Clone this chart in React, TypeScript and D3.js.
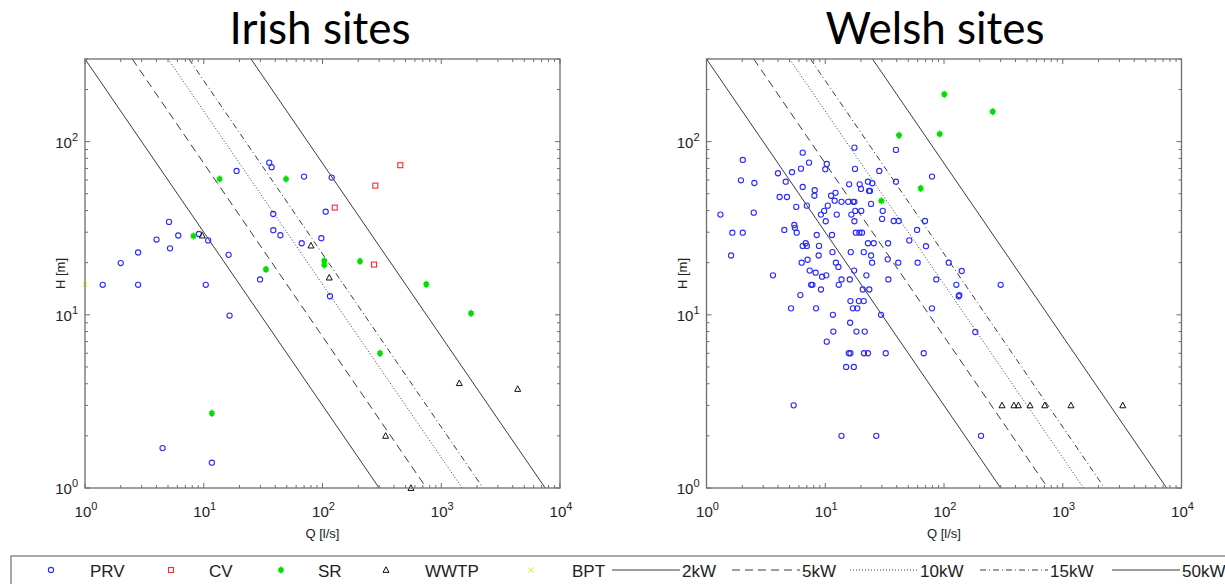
import React from "react";
import { scaleLog, line } from "d3";

// [Q l/s, H m]
const irishPRV: [number, number][] = [
  [35.6, 75.6], [37.3, 71.2], [18.9, 67.7], [69.9, 62.8], [119.5, 62.0], [38.5, 38.2],
  [106.4, 39.4], [5.1, 34.4], [6.1, 28.7], [4.0, 27.2], [5.2, 24.2], [2.8, 22.9],
  [2.0, 19.9], [9.1, 29.3], [10.9, 26.9], [16.2, 22.2], [38.5, 30.8], [44.2, 28.8],
  [66.8, 25.9], [97.8, 27.7], [29.8, 16.0], [1.41, 14.9], [2.8, 14.9], [10.4, 14.9],
  [16.5, 9.9], [4.5, 1.7], [11.7, 1.4], [115.6, 12.8],
];
const irishCV: [number, number][] = [[126.7, 41.6], [452, 73.1], [278.5, 55.7], [271.6, 19.5]];
const irishSR: [number, number][] = [
  [13.6, 60.9], [49.3, 60.9], [8.2, 28.5], [103.5, 20.5], [103.5, 19.4], [33.4, 18.3],
  [207, 20.4], [748, 15.0], [1782, 10.2], [305, 6.0], [11.7, 2.7],
];
const irishWWTP: [number, number][] = [
  [9.7, 28.7], [80, 25.1], [114, 16.4], [1419, 4.03], [4404, 3.73], [340, 2.0], [556, 1.0],
];
const irishBPT: [number, number][] = [[1.0, 15.0]];

const welshPRV: [number, number][] = [
  [39.4, 89.6], [17.6, 92.3], [6.46, 86.4], [2.02, 78.4], [7.3, 75.6], [10.3, 74.3], [10.0, 69.3],
  [17.8, 69.6], [6.25, 69.8], [5.25, 66.6], [4.0, 65.7], [28.5, 67.7], [1.95, 59.8], [2.53, 57.7],
  [4.65, 58.7], [39.4, 58.7], [79.2, 62.8], [6.46, 54.7], [15.9, 56.7], [19.5, 56.7], [22.9, 58.7],
  [24.9, 57.5], [20.0, 53.3], [23.4, 51.9], [23.8, 51.9], [8.15, 52.4], [8.1, 48.7], [4.13, 47.9],
  [4.76, 47.9], [11.2, 48.7], [12.2, 50.6], [12.0, 45.6], [13.7, 44.9], [15.6, 44.9], [17.2, 44.9],
  [17.6, 44.9], [24.3, 43.7], [5.7, 42.0], [7.0, 42.7], [10.5, 42.7], [9.8, 39.8], [9.2, 37.9],
  [12.5, 37.9], [17.9, 39.8], [16.6, 37.9], [20.1, 39.8], [30.5, 39.8], [30.1, 35.8], [37.7, 34.8],
  [41.6, 34.8], [69.2, 34.8], [10.1, 34.7], [17.6, 34.7], [1.31, 37.9], [2.5, 38.9], [1.65, 29.8],
  [2.02, 29.8], [4.52, 30.9], [5.49, 33.0], [5.55, 31.8], [5.75, 29.8], [8.47, 28.9], [11.4, 28.9],
  [18.1, 29.8], [19.4, 29.8], [20.4, 29.8], [59.3, 30.9], [51.0, 26.9], [70.5, 24.9], [1.61, 22.0],
  [6.46, 25.0], [6.85, 25.9], [7.0, 25.0], [8.86, 25.0], [11.5, 23.0], [16.4, 23.0], [21.1, 23.0],
  [22.9, 25.9], [24.3, 22.0], [25.6, 25.9], [33.8, 25.9], [6.33, 20.0], [7.1, 20.8], [8.8, 22.0],
  [12.3, 20.0], [12.9, 18.9], [24.8, 20.0], [33.6, 20.9], [41.2, 20.0], [60.0, 20.0], [109.6, 20.0],
  [3.63, 16.9], [7.4, 18.0], [8.3, 17.5], [9.4, 16.6], [10.2, 16.9], [17.5, 18.0], [22.2, 16.9],
  [7.6, 14.9], [7.8, 14.9], [13.7, 16.0], [13.0, 14.9], [16.1, 16.0], [20.7, 14.0], [23.5, 14.0],
  [34.0, 16.0], [86.1, 16.0], [127, 14.9], [133, 12.8], [6.17, 13.0], [9.2, 14.0], [5.15, 10.9],
  [8.36, 10.9], [11.6, 10.0], [16.3, 12.0], [19.2, 12.0], [21.1, 12.0], [17.1, 10.9], [18.6, 10.9],
  [29.5, 10.0], [79.2, 10.9], [11.7, 8.0], [16.2, 9.0], [18.3, 8.0], [21.5, 8.0], [10.3, 7.0],
  [15.8, 6.0], [16.3, 6.0], [21.2, 6.0], [22.9, 6.0], [32.3, 6.0], [67.5, 6.0], [15.0, 5.0],
  [17.4, 5.0], [5.42, 3.0], [13.7, 2.0], [26.9, 2.0], [141, 17.9], [134.6, 13.0], [300, 14.9],
  [183.5, 7.96], [205, 2.0],
];
const welshCV: [number, number][] = [];
const welshSR: [number, number][] = [
  [100.6, 188], [41.8, 109], [92, 110.8], [257, 149], [63.6, 53.8], [29.7, 45.5],
];
const welshWWTP: [number, number][] = [
  [308, 3], [388, 3], [423, 3], [530, 3], [705, 3], [1173, 3], [3200, 3],
];
const welshBPT: [number, number][] = [];

// iso-power lines: Q*H = qhPerKw * kW
const powerKw = [2, 5, 10, 15, 50];
const powerLabels = ["2kW", "5kW", "10kW", "15kW", "50kW"];
const qhPerKw = 150;

const markerLabels = ["PRV", "CV", "SR", "WWTP", "BPT"];

const W = 1225;
const H = 584;
const top = 59;
const bottom = 488;
const plotW = 475;
const lineColor = "#3a3a3a";
const dashes = ["none", "8,5", "1,2", "6,3,1,3", "none"];

const Marker = ({ kind, x, y }: { kind: string; x: number; y: number }) => {
  if (kind === "PRV")
    return <circle cx={x} cy={y} r={2.6} fill="none" stroke="#2b2bff" strokeWidth={1.1} />;
  if (kind === "CV")
    return <rect x={x - 2.5} y={y - 2.5} width={5} height={5} fill="none" stroke="#ff2a2a" strokeWidth={1.1} />;
  if (kind === "SR")
    return (
      <path
        d={`M${x - 3},${y}H${x + 3}M${x},${y - 3.5}V${y + 3.5}M${x - 2.2},${y - 2.2}L${x + 2.2},${y + 2.2}M${x - 2.2},${y + 2.2}L${x + 2.2},${y - 2.2}`}
        stroke="#00e000"
        strokeWidth={1.6}
      />
    );
  if (kind === "WWTP")
    return (
      <path d={`M${x},${y - 3.2}L${x + 3},${y + 2.4}L${x - 3},${y + 2.4}Z`} fill="none" stroke="#111" strokeWidth={1} />
    );
  return (
    <path d={`M${x - 2.5},${y - 2.5}L${x + 2.5},${y + 2.5}M${x - 2.5},${y + 2.5}L${x + 2.5},${y - 2.5}`} stroke="#f0f000" strokeWidth={1} />
  );
};

type Panel = {
  id: string;
  title: string;
  titleX: number;
  x0: number;
  series: [number, number][][];
};

const panels: Panel[] = [
  { id: "ie", title: "Irish sites", titleX: 320, x0: 85, series: [irishPRV, irishCV, irishSR, irishWWTP, irishBPT] },
  { id: "wa", title: "Welsh sites", titleX: 935, x0: 706.5, series: [welshPRV, welshCV, welshSR, welshWWTP, welshBPT] },
];

const PlotPanel = ({ p }: { p: Panel }) => {
  const x = scaleLog().domain([1, 1e4]).range([p.x0, p.x0 + plotW]);
  const y = scaleLog().domain([1, 300]).range([bottom, top]);
  const xr = p.x0 + plotW;
  const xTicks: number[] = [];
  for (let e = 0; e < 4; e++) for (let m = 1; m <= 9; m++) xTicks.push(m * 10 ** e);
  xTicks.push(1e4);
  const yTicks: number[] = [];
  for (let e = 0; e < 3; e++) for (let m = 1; m <= 9; m++) if (m * 10 ** e <= 300) yTicks.push(m * 10 ** e);
  const isMajor = (v: number) => Math.abs(Math.log10(v) - Math.round(Math.log10(v))) < 1e-9;
  const ln = line<[number, number]>()
    .x((d) => x(d[0]))
    .y((d) => y(d[1]));
  const axisC = "#6e6e6e";
  return (
    <g>
      <defs>
        <clipPath id={`clip-${p.id}`}>
          <rect x={p.x0} y={top} width={plotW} height={bottom - top} />
        </clipPath>
      </defs>
      <text x={p.titleX} y={44} textAnchor="middle" fontFamily="Lato, 'Open Sans', sans-serif" fontSize={44} fill="#000">
        {p.title}
      </text>
      <g clipPath={`url(#clip-${p.id})`}>
        {powerKw.map((kw, i) => {
          const qh = kw * qhPerKw;
          return (
            <path
              key={kw}
              d={ln([[qh / 300, 300], [qh / 1, 1]]) || ""}
              fill="none"
              stroke={lineColor}
              strokeWidth={1}
              strokeDasharray={dashes[i]}
            />
          );
        })}
      </g>
      {p.series.map((s, i) =>
        s.map((d, j) => <Marker key={`${i}-${j}`} kind={markerLabels[i]} x={x(d[0])} y={y(d[1])} />)
      )}
      <rect x={p.x0} y={top} width={plotW} height={bottom - top} fill="none" stroke={axisC} strokeWidth={1.3} />
      {xTicks.map((t) => {
        const len = isMajor(t) ? 5 : 3;
        const px = x(t);
        return (
          <g key={`xt${t}`} stroke={axisC} strokeWidth={1}>
            <line x1={px} x2={px} y1={bottom} y2={bottom - len} />
            <line x1={px} x2={px} y1={top} y2={top + len} />
          </g>
        );
      })}
      {yTicks.map((t) => {
        const len = isMajor(t) ? 5 : 3;
        const py = y(t);
        return (
          <g key={`yt${t}`} stroke={axisC} strokeWidth={1}>
            <line x1={p.x0} x2={p.x0 + len} y1={py} y2={py} />
            <line x1={xr} x2={xr - len} y1={py} y2={py} />
          </g>
        );
      })}
      {[0, 1, 2, 3, 4].map((e) => (
        <text key={`xl${e}`} x={x(10 ** e) + 1} y={517} textAnchor="middle" fontFamily="'Liberation Sans', Arial, sans-serif" fontSize={15} fill="#222">
          <tspan>10</tspan>
          <tspan dy={-7} fontSize={11}>{e}</tspan>
        </text>
      ))}
      {[0, 1, 2].map((e) => (
        <text key={`yl${e}`} x={p.x0 - 7} y={y(10 ** e) + 6} textAnchor="end" fontFamily="'Liberation Sans', Arial, sans-serif" fontSize={15} fill="#222">
          <tspan>10</tspan>
          <tspan dy={-7} fontSize={11}>{e}</tspan>
        </text>
      ))}
      <text x={p.x0 + plotW / 2} y={538} textAnchor="middle" fontFamily="'Liberation Sans', Arial, sans-serif" fontSize={13} fill="#222">
        Q [l/s]
      </text>
      <text
        transform={`translate(${p.x0 - 20},${(top + bottom) / 2}) rotate(-90)`}
        textAnchor="middle"
        fontFamily="'Liberation Sans', Arial, sans-serif"
        fontSize={13}
        fill="#222"
      >
        H [m]
      </text>
    </g>
  );
};

// legend layout
const markerLegendX = [51, 171, 281, 386, 531];
const markerLegendTextX = [90, 209, 318, 425, 572];
const lineLegendX = [612, 732, 850, 980, 1112];
const legendY = 570;

const App = () => {
  const fontL = "'Liberation Sans', Arial, sans-serif";
  return (
    <svg width={W} height={H} style={{ position: "absolute", left: 0, top: 0, background: "#fff" }}>
      <rect width={W} height={H} fill="#fff" />
      {panels.map((p) => (
        <PlotPanel key={p.id} p={p} />
      ))}
      <rect x={11} y={556} width={1240} height={40} fill="#fff" stroke="#8c8c8c" strokeWidth={1.5} />
      {markerLabels.map((m, i) => (
        <g key={m}>
          <Marker kind={m} x={markerLegendX[i]} y={legendY} />
          <text x={markerLegendTextX[i]} y={legendY + 7} fontFamily={fontL} fontSize={17} fill="#222">
            {m}
          </text>
        </g>
      ))}
      {powerLabels.map((lab, i) => (
        <g key={lab}>
          <line
            x1={lineLegendX[i]}
            x2={lineLegendX[i] + 68}
            y1={legendY}
            y2={legendY}
            stroke={lineColor}
            strokeWidth={1}
            strokeDasharray={dashes[i]}
          />
          <text x={lineLegendX[i] + 70} y={legendY + 7} fontFamily={fontL} fontSize={17} fill="#222">
            {lab}
          </text>
        </g>
      ))}
    </svg>
  );
};

export default App;
